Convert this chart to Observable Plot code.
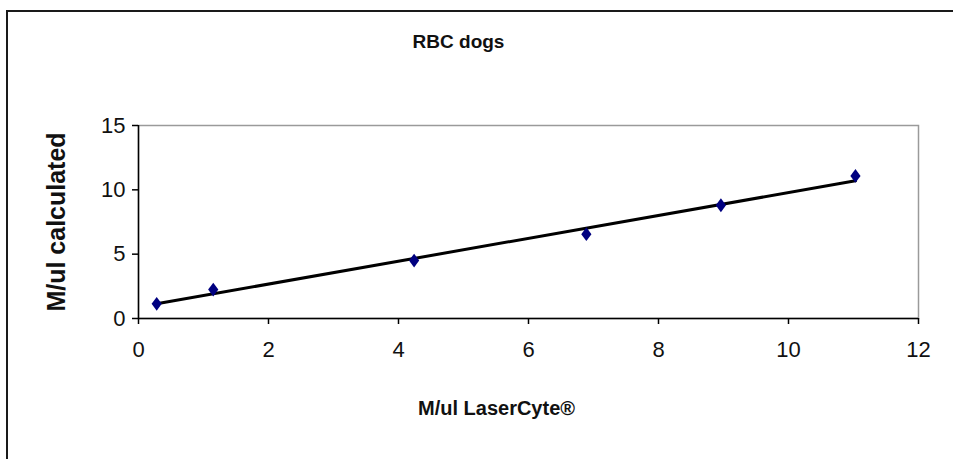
<!DOCTYPE html>
<html>
<head>
<meta charset="utf-8">
<script src="https://cdn.jsdelivr.net/npm/d3@7"></script>
<script src="https://cdn.jsdelivr.net/npm/@observablehq/plot@0.6"></script>
<style>
  html, body { margin: 0; padding: 0; background: #fff; }
  #wrap { position: relative; width: 953px; height: 459px; overflow: hidden; }
  #border { position: absolute; left: 6px; top: 10px; width: 1000px; height: 1000px;
            border-left: 2px solid #1a1a1a; border-top: 2px solid #1a1a1a; box-sizing: border-box; }
  #chart { position: absolute; left: 0; top: 0; }
</style>
</head>
<body>
<div id="wrap"><div id="border"></div><div id="chart"></div></div>
<script>
// Data
const laserCyte = [0.28, 1.15, 4.24, 6.89, 8.96, 11.03];   // M/ul LaserCyte®
const calculated = [1.14, 2.25, 4.5, 6.55, 8.8, 11.08];     // M/ul calculated
const xTicks = [0, 2, 4, 6, 8, 10, 12];
const yTicks = [0, 5, 10, 15];
const titleText = "RBC dogs";
const xLabel = "M/ul LaserCyte®";
const yLabel = "M/ul calculated";

const data = laserCyte.map((x, i) => ({x, y: calculated[i]}));

const font = "'Liberation Sans', Arial, sans-serif";

// diamond symbol, slightly taller than wide
const diamond = {
  draw(ctx, size) {
    const r = Math.sqrt(size / Math.PI);
    const w = r * 0.85, h = r * 1.15;
    ctx.moveTo(0, -h); ctx.lineTo(w, 0); ctx.lineTo(0, h); ctx.lineTo(-w, 0); ctx.closePath();
  }
};

const chart = Plot.plot({
  width: 953,
  height: 459,
  marginLeft: 138,
  marginRight: 35,
  marginTop: 125,
  marginBottom: 141,
  style: {fontFamily: font, background: "transparent", overflow: "visible"},
  x: {domain: [0, 12]},
  y: {domain: [0, 15]},
  marks: [
    Plot.frame({stroke: "#9a9a9a", strokeWidth: 1.5}),
    Plot.axisX({ticks: xTicks, tickSize: 6, tickPadding: 17, fontSize: 22, label: null, stroke: "#000", strokeWidth: 1.5, color: "#111"}),
    Plot.axisY({ticks: yTicks, tickSize: 6, tickPadding: 7, fontSize: 22, label: null, stroke: "#000", strokeWidth: 1.5, color: "#111"}),
    Plot.ruleY([0], {stroke: "#000", strokeWidth: 1.5}),
    Plot.ruleX([0], {stroke: "#000", strokeWidth: 1.5}),
    Plot.linearRegressionY(data, {x: "x", y: "y", ci: 0, stroke: "#000", strokeWidth: 3}),
    Plot.dot(data, {x: "x", y: "y", symbol: diamond, r: 6, fill: "#000080", stroke: "none"}),
    Plot.text([titleText], {frameAnchor: "top", textAnchor: "middle", lineAnchor: "middle", dx: -70, dy: -84, fontSize: 19, fontWeight: "bold", fill: "#111"}),
    Plot.text([xLabel], {frameAnchor: "bottom", textAnchor: "middle", lineAnchor: "middle", dx: -32, dy: 90, fontSize: 20, fontWeight: "bold", fill: "#111"}),
    Plot.text([yLabel], {frameAnchor: "left", textAnchor: "middle", lineAnchor: "middle", dx: -82, rotate: -90, fontSize: 25, fontWeight: "bold", fill: "#111"})
  ]
});
document.getElementById("chart").appendChild(chart);
</script>
</body>
</html>
